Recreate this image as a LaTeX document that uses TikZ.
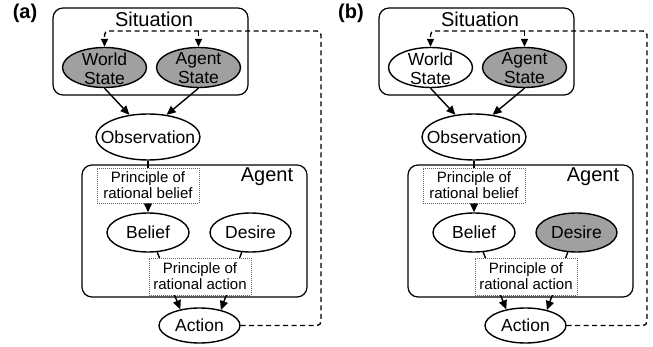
\documentclass[tikz,border=0pt]{standalone}
\usepackage{fontspec}
\setmainfont{Liberation Sans}
\usetikzlibrary{arrows.meta,shapes.geometric}
\pgfdeclarelayer{bg}
\pgfsetlayers{bg,main}
\definecolor{stategray}{RGB}{160,160,160}
\definecolor{boxgray}{RGB}{100,100,100}
\tikzset{
  ell/.style={ellipse, draw, line width=1.4pt, inner sep=0pt},
  lbl/.style={font=\fontsize{17.5}{19}\selectfont, align=center, inner sep=0pt},
  titlelbl/.style={font=\fontsize{20}{22}\selectfont, inner sep=0pt},
  panellbl/.style={font=\fontsize{20}{22}\selectfont\bfseries, inner sep=0pt},
  frame/.style={rectangle, draw, line width=1.2pt, rounded corners=10pt, inner sep=0pt},
  principle/.style={rectangle, draw=boxgray, fill=white, dash pattern=on 1pt off 1pt,
    line width=0.8pt, inner sep=0pt, align=center, font=\fontsize{15}{16}\selectfont},
  conn/.style={line width=1.4pt, -{Triangle[length=9pt,width=8pt]}},
  loopconn/.style={line width=1.4pt, dash pattern=on 5pt off 3.5pt, rounded corners=4pt,
    -{Triangle[length=8pt,width=7pt]}},
}
\newcommand\drawpanel[4]{%
  % #1 prefix, #2 label, #3 world-state fill, #4 desire fill
  \node[panellbl] (#1lab) at (25,13) {(#2)};
  \node[frame, minimum width=195pt, minimum height=87pt] (#1sit) at (150.5,51.5) {};
  \node[titlelbl] (#1sitt) at (154,19.5) {Situation};
  \node[ell, fill=#3, minimum width=84pt, minimum height=40pt] (#1ws) at (104.5,67.5) {};
  \node[lbl] (#1wst) at (104.5,68.5) {World\\State};
  \node[ell, fill=stategray, minimum width=84pt, minimum height=40pt] (#1as) at (198.5,67.5) {};
  \node[lbl] (#1ast) at (198.5,68.5) {Agent\\State};
  \node[ell, fill=white, minimum width=104pt, minimum height=46pt] (#1obs) at (148,137) {};
  \node[lbl] (#1obst) at (148,137) {Observation};
  \node[frame, minimum width=225pt, minimum height=132pt] (#1agent) at (194.5,231) {};
  \node[titlelbl] (#1agentt) at (267,177) {Agent};
  \node[principle, minimum width=102pt, minimum height=35pt] (#1prb) at (148,185.5) {Principle of\\rational belief};
  \node[ell, fill=white, minimum width=82pt, minimum height=39pt] (#1bel) at (148,232.5) {};
  \node[lbl] (#1belt) at (148,232.5) {Belief};
  \node[ell, fill=#4, minimum width=81pt, minimum height=39pt] (#1des) at (250.5,232.5) {};
  \node[lbl] (#1dest) at (250.5,232.5) {Desire};
  \node[principle, minimum width=102pt, minimum height=37pt] (#1pra) at (200,276.5) {Principle of\\rational action};
  \node[ell, fill=white, minimum width=81pt, minimum height=35pt] (#1act) at (199.5,325.5) {};
  \node[lbl] (#1actt) at (199.5,325.5) {Action};
  \coordinate (#1tr) at (321,31);
  \draw[conn] (#1ws.south) -- (#1obs.130);
  \draw[conn] (#1as.south) -- (#1obs.50);
  \begin{pgfonlayer}{bg}
    \draw[conn] (#1obs.south) -- (#1bel.north);
    \draw[conn] (#1bel.-65) -- (#1act.140);
    \draw[conn] (#1des.-114) -- (#1act.36);
  \end{pgfonlayer}
  \draw[loopconn] (#1act.east) -| (#1tr) -| (#1ws.north);
  \draw[loopconn] (#1as.north |- #1tr) -- (#1as.north);
}
\begin{document}
\begin{tikzpicture}[x=1pt, y=-1pt]
  \useasboundingbox (0,0) rectangle (653,347);
  \begin{scope}
    \drawpanel{a}{a}{stategray}{white}
  \end{scope}
  \begin{scope}[xshift=326pt]
    \drawpanel{b}{b}{white}{stategray}
  \end{scope}
\end{tikzpicture}
\end{document}
